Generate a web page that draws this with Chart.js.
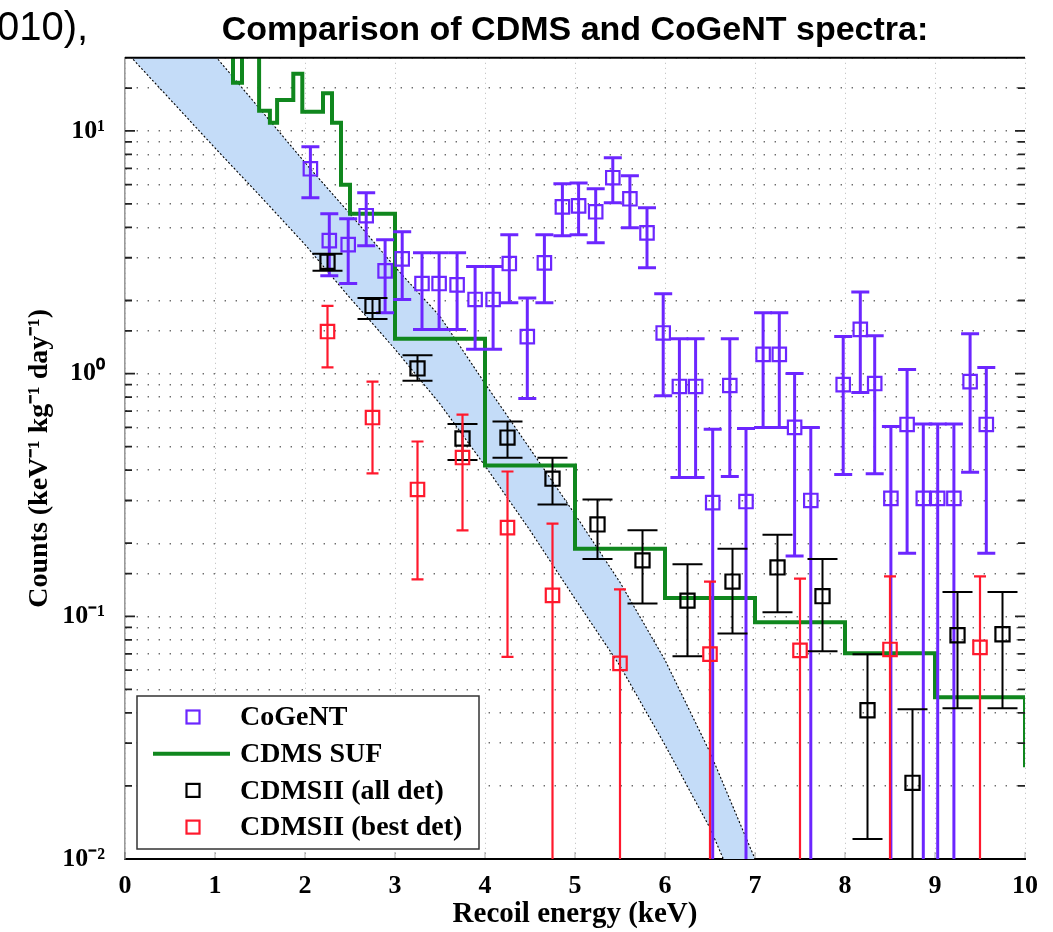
<!DOCTYPE html>
<html>
<head>
<meta charset="utf-8">
<script src="https://cdn.jsdelivr.net/npm/chart.js@4.4.1/dist/chart.umd.min.js"></script>
<style>
html,body{margin:0;padding:0;background:#fff;}
#wrap{position:relative;width:1053px;height:932px;}
</style>
</head>
<body>
<div id="wrap"><canvas id="c"></canvas></div>
<script>
// ---------------- data ----------------
const xTicks = [0,1,2,3,4,5,6,7,8,9,10];
const yDecades = [0.01, 0.1, 1, 10];

// CoGeNT
const cogentX  = [2.06,2.27,2.48,2.68,2.89,3.08,3.30,3.49,3.69,3.89,4.09,4.27,4.47,4.66,4.86,5.04,5.23,5.42,5.61,5.80,5.98,6.16,6.34,6.53,6.72,6.90,7.09,7.27,7.44,7.62,7.98,8.17,8.33,8.51,8.69,8.87,9.03,9.21,9.39,9.57];
const cogentY  = [6.98,3.53,3.40,4.47,2.65,2.97,2.35,2.35,2.32,2.02,2.02,2.84,1.42,2.86,4.86,4.91,4.64,6.41,5.25,3.80,1.47,0.885,0.885,0.294,0.893,0.297,1.20,1.20,0.600,0.300,0.900,1.52,0.910,0.306,0.617,0.306,0.306,0.306,0.927,0.617];
const cogentHi = [8.6,4.55,4.34,5.56,3.56,3.84,3.15,3.15,3.15,2.76,2.76,3.73,2.05,3.73,6.05,6.10,5.77,7.74,6.53,4.82,2.13,1.39,1.39,0.589,1.39,0.594,1.78,1.78,1.00,0.600,1.42,2.17,1.43,0.605,1.04,0.620,0.620,0.620,1.46,1.06];
const cogentLo = [5.3,2.53,2.35,3.36,1.78,2.02,1.52,1.52,1.52,1.26,1.26,1.96,0.79,1.96,3.70,3.73,3.46,5.06,3.99,2.73,0.81,0.373,0.373,0.0001,0.377,0.0001,0.60,0.60,0.177,0.0001,0.384,0.835,0.387,0.0001,0.182,0.0001,0.0001,0.0001,0.392,0.182];

// CDMS SUF (step, value applies from the given left edge)
const sufX = [1.1,1.2,1.3,1.49,1.61,1.69,1.87,1.97,2.2,2.3,2.4,2.5,3.0,4.0,5.0,6.0,7.0,8.0,9.0,10.0];
const sufY = [25,15.8,25,12.1,10.8,13.4,17.2,12.0,14.3,10.8,6.0,4.55,1.39,0.418,0.19,0.119,0.0945,0.0704,0.0464,0.0239];

// CDMSII (all det)
const allX  = [2.25,2.75,3.25,3.75,4.25,4.75,5.25,5.75,6.25,6.75,7.25,7.75,8.25,8.75,9.25,9.75];
const allY  = [2.89,1.90,1.05,0.54,0.545,0.369,0.239,0.170,0.116,0.139,0.159,0.121,0.041,0.0206,0.0835,0.0843];
const allHi = [3.12,2.05,1.19,0.62,0.635,0.45,0.303,0.226,0.164,0.19,0.217,0.172,0.0698,0.0414,0.126,0.126];
const allLo = [2.65,1.68,0.935,0.44,0.45,0.289,0.172,0.113,0.0685,0.085,0.104,0.0718,0.0121,0.0001,0.0418,0.0418];

// CDMSII (best det)
const bestX  = [2.25,2.75,3.25,3.75,4.25,4.75,5.5,6.5,7.5,8.5,9.5];
const bestY  = [1.49,0.659,0.333,0.451,0.232,0.122,0.064,0.0698,0.0724,0.073,0.0745];
const bestHi = [1.90,0.927,0.525,0.678,0.395,0.241,0.129,0.139,0.143,0.146,0.146];
const bestLo = [1.06,0.388,0.142,0.226,0.068,0.0001,0.0001,0.0001,0.0001,0.0001,0.0001];

// light-blue band (lower and upper edge)
const bandX    = [0,0.5,1,1.5,2,2.5,3,3.5,4,4.5,5,5.5,6,6.5,7];
const bandLow  = [21.4,13.5,8.5,5.4,3.4,2.05,1.26,0.75,0.417,0.226,0.118,0.0625,0.0295,0.0134,0.005];
const bandHigh = [56,34,20.4,12.3,7.4,4.55,2.75,1.72,0.91,0.49,0.263,0.138,0.066,0.0275,0.01];

// ---------------- styles ----------------
const PURPLE = 'rgb(108,38,255)';
const GREEN  = 'rgb(16,135,30)';
const BLACK  = '#000000';
const RED    = 'rgb(255,25,45)';
const BANDFILL = 'rgb(196,220,248)';
const SERIF = '"Liberation Serif", "Times New Roman", serif';

const pts = (xs, ys) => xs.map((x, i) => ({x: x, y: ys[i]}));
const bars = (xs, lo, hi) => xs.flatMap((x, i) => [{x: x, y: lo[i]}, {x: x, y: hi[i]}, {x: x, y: null}]);
const caps = (xs, lo, hi) => xs.flatMap((x, i) => [{x: x, y: lo[i]}, {x: x, y: hi[i]}]);

function errSet(label, xs, ys, lo, hi, color, bw, capR, boxR, order) {
  return [
    {label: label + ' err', data: bars(xs, lo, hi), borderColor: color, borderWidth: bw,
     pointRadius: 0, showLine: true, spanGaps: false, order: order},
    {label: label + ' caps', data: caps(xs, lo, hi), showLine: false, pointStyle: 'line',
     pointRadius: capR, pointBorderColor: color, pointBorderWidth: bw, order: order},
    {label: label, data: pts(xs, ys), showLine: false, pointStyle: 'rect', pointRadius: boxR,
     pointBorderColor: color, pointBackgroundColor: 'rgba(0,0,0,0)', pointBorderWidth: 2.2, order: order}
  ];
}

const SUP = {'-':'\u207B','0':'\u2070','1':'\u00B9','2':'\u00B2','3':'\u00B3','4':'\u2074','5':'\u2075','6':'\u2076','7':'\u2077','8':'\u2078','9':'\u2079'};
const sup = n => String(n).split('').map(c => SUP[c]).join('');

const legendItems = [
  {label: 'CoGeNT', color: PURPLE, kind: 'box'},
  {label: 'CDMS SUF', color: GREEN, kind: 'line'},
  {label: 'CDMSII (all det)', color: BLACK, kind: 'box'},
  {label: 'CDMSII (best det)', color: RED, kind: 'box'}
];

const extras = {
  id: 'extras',
  beforeDraw(chart) {
    const ctx = chart.ctx;
    ctx.save();
    ctx.fillStyle = '#fff';
    ctx.fillRect(0, 0, chart.width, chart.height);
    ctx.restore();
  },
  afterDatasetsDraw(chart) {
    const ctx = chart.ctx, a = chart.chartArea;
    const ys = chart.scales.y, xs = chart.scales.x;
    ctx.save();
    // inner tick marks (left and right edges) at every y tick of the log scale
    ctx.strokeStyle = '#222';
    ctx.lineWidth = 1.8;
    ys.ticks.forEach(t => {
      const p = ys.getPixelForValue(t.value);
      if (p < a.top + 1 || p > a.bottom - 1) return;
      const major = yDecades.includes(t.value);
      const len = major ? 10 : 7;
      ctx.beginPath();
      ctx.moveTo(a.left, p); ctx.lineTo(a.left + len, p);
      ctx.moveTo(a.right - len, p); ctx.lineTo(a.right, p);
      ctx.stroke();
    });
    // small x tick marks above the bottom axis
    ctx.strokeStyle = 'rgba(0,0,0,0.35)';
    ctx.lineWidth = 1;
    xs.ticks.forEach(t => {
      const p = xs.getPixelForValue(t.value);
      ctx.beginPath();
      ctx.moveTo(p, a.bottom); ctx.lineTo(p, a.bottom - 7);
      ctx.stroke();
    });
    // top frame line
    ctx.strokeStyle = '#000';
    ctx.lineWidth = 2;
    ctx.beginPath();
    ctx.moveTo(a.left, a.top); ctx.lineTo(a.right, a.top);
    ctx.stroke();
    // legend box
    const L = a.left + 12, T = a.bottom - 163, W = 342, H = 153;
    ctx.fillStyle = '#fff';
    ctx.fillRect(L, T, W, H);
    ctx.strokeStyle = '#333';
    ctx.lineWidth = 1.5;
    ctx.strokeRect(L, T, W, H);
    ctx.font = 'bold 28px ' + SERIF;
    ctx.textBaseline = 'middle';
    ctx.textAlign = 'left';
    legendItems.forEach((it, i) => {
      const y = T + 21 + i * 36.7;
      if (it.kind === 'box') {
        ctx.strokeStyle = it.color;
        ctx.lineWidth = 2.2;
        ctx.strokeRect(L + 56 - 6.5, y - 6.5, 13, 13);
      } else {
        ctx.strokeStyle = it.color;
        ctx.lineWidth = 4;
        ctx.beginPath();
        ctx.moveTo(L + 16, y);
        ctx.lineTo(L + 93, y);
        ctx.stroke();
      }
      ctx.fillStyle = '#000';
      ctx.fillText(it.label, L + 103, y + 1);
    });
    ctx.restore();
  },
  afterDraw(chart) {
    const ctx = chart.ctx;
    ctx.save();
    ctx.font = '40px "Liberation Sans", Arial, sans-serif';
    ctx.fillStyle = '#000';
    ctx.textBaseline = 'middle';
    ctx.textAlign = 'left';
    ctx.fillText('010),', -3, 29);
    ctx.restore();
  }
};

const datasets = [
  {label: 'band low', data: pts(bandX, bandLow), borderColor: '#000', borderWidth: 1.1, borderDash: [2, 2],
   pointRadius: 0, fill: false, order: 20},
  {label: 'band high', data: pts(bandX, bandHigh), borderColor: '#000', borderWidth: 1.1, borderDash: [2, 2],
   pointRadius: 0, fill: '-1', backgroundColor: BANDFILL, order: 20},
  {label: 'CDMS SUF', data: pts(sufX, sufY), borderColor: GREEN, borderWidth: 4, stepped: true,
   pointRadius: 0, fill: false, order: 10},
  ...errSet('CoGeNT', cogentX, cogentY, cogentLo, cogentHi, PURPLE, 3, 9, 9.5, 5),
  ...errSet('CDMSII (all det)', allX, allY, allLo, allHi, BLACK, 2, 15, 10, 3),
  ...errSet('CDMSII (best det)', bestX, bestY, bestLo, bestHi, RED, 2.2, 6, 9.5, 1)
];

new Chart(document.getElementById('c'), {
  type: 'line',
  data: {datasets: datasets},
  options: {
    responsive: true,
    maintainAspectRatio: false,
    animation: false,
    events: [],
    layout: {padding: {left: 0, right: 28, top: 0, bottom: 0}},
    elements: {line: {tension: 0}},
    plugins: {
      legend: {display: false},
      tooltip: {enabled: false},
      title: {
        display: true,
        text: 'Comparison of CDMS and CoGeNT spectra:',
        fullSize: false,
        color: '#000',
        font: {family: '"Liberation Sans", Arial, sans-serif', size: 34, weight: 'bold', lineHeight: 1.2},
        padding: {top: 10, bottom: 7}
      }
    },
    scales: {
      x: {
        type: 'linear',
        min: 0, max: 10,
        offset: false,
        afterBuildTicks: s => { s.ticks = xTicks.map(v => ({value: v})); },
        afterFit: s => { s.height = 73; },
        ticks: {
          color: '#000',
          padding: 12,
          maxRotation: 0,
          font: {family: SERIF, size: 26, weight: 'bold'},
          callback: v => String(v)
        },
        grid: {color: 'rgba(0,0,0,0.28)', lineWidth: 1, drawTicks: false},
        border: {display: true, color: '#000', width: 2, dash: [1, 4]},
        title: {
          display: true,
          text: 'Recoil energy (keV)',
          color: '#000',
          font: {family: SERIF, size: 29, weight: 'bold', lineHeight: 1.2},
          padding: {top: 0, bottom: 0}
        }
      },
      y: {
        type: 'logarithmic',
        min: 0.01, max: 20,
        afterFit: s => { s.width = 125; },
        ticks: {
          color: '#000',
          padding: 20,
          autoSkip: false,
          font: {family: SERIF, size: 26, weight: 'bold'},
          callback: v => {
            const l = Math.log10(v), r = Math.round(l);
            return (Math.abs(l - r) < 1e-9 && yDecades.some(d => Math.abs(d - v) < 1e-12)) ? '10' + sup(r) : '';
          }
        },
        grid: {color: 'rgba(60,60,60,0.75)', lineWidth: 1.4, drawTicks: false},
        border: {display: true, color: '#9a9a9a', width: 1.6, dash: [1.4, 9.6]},
        title: {
          display: true,
          text: 'Counts (keV\u207B\u00B9 kg\u207B\u00B9 day\u207B\u00B9)',
          color: '#000',
          font: {family: SERIF, size: 28, weight: 'bold', lineHeight: 1.2},
          padding: {top: 23, bottom: 0}
        }
      }
    }
  },
  plugins: [extras]
});
</script>
</body>
</html>
